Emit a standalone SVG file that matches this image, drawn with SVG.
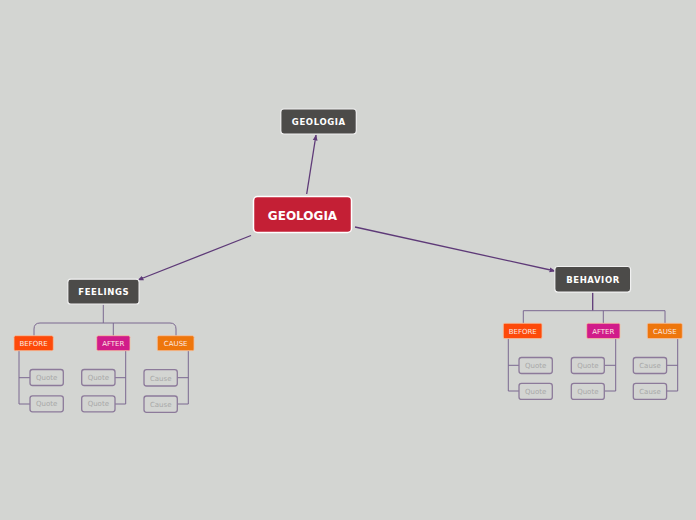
<svg xmlns="http://www.w3.org/2000/svg" width="696" height="520" viewBox="0 0 696 520">
<defs>
<style>
text{font-family:"DejaVu Sans","Verdana",sans-serif;text-anchor:middle}
.main{fill:#c41f35;stroke:#ffffff;stroke-width:1.5}
.dark{fill:#4c4b49;stroke:#f0f0f0;stroke-width:1.2}
.tw{fill:#ffffff;font-weight:bold}
.ls{letter-spacing:0.6px}
.sm{stroke:#f4c0a0;stroke-width:0.8}
.before{fill:#fd4a0a}
.after{fill:#d11c8a}
.cause{fill:#ee760c}
.lbl{fill:#fbe8e0;font-size:7px}
.leaf{fill:#d3d5d2;stroke:#8c7a9a;stroke-width:1.3}
.lt{fill:#a8a8a8;font-size:7px}
.conn{fill:none;stroke:#5e3a78;stroke-width:1.3}
.sub{fill:none;stroke:#7b6890;stroke-width:1}
</style>
<marker id="ah" viewBox="0 0 10 10" refX="9" refY="5" markerWidth="6" markerHeight="6" orient="auto" markerUnits="userSpaceOnUse">
<path d="M0,1 L10,5 L0,9 z" fill="#5e3a78"/>
</marker>
</defs>
<rect width="696" height="520" fill="#d3d5d2"/>
<g id="connectors">
<line class="conn" x1="306.7" y1="194" x2="316" y2="135" marker-end="url(#ah)"/>
<line class="conn" x1="251" y1="235.5" x2="138" y2="280" marker-end="url(#ah)"/>
<line class="conn" x1="355" y1="227" x2="555" y2="271" marker-end="url(#ah)"/>
<path class="sub" d="M103.3,304.5 V323 M34,336 V329 Q34,323 40,323 H170 Q176,323 176,329 V336 M113.3,323 V336"/>
<path class="sub" d="M19,351 V404 M19,377.7 H30 M19,404 H30"/>
<path class="sub" d="M125.7,351 V404 M115,377.7 H125.7 M115,404 H125.7"/>
<path class="sub" d="M188.3,351 V404 M177.3,377.7 H188.3 M177.3,404 H188.3"/>
<path class="conn" d="M592.7,292.5 V310.7"/>
<path class="sub" d="M523.3,323.3 V310.7 H665 V323.3 M603.3,310.7 V323.3"/>
<path class="sub" d="M508.3,338.7 V391 M508.3,365.3 H519 M508.3,391 H519"/>
<path class="sub" d="M615.7,338.7 V391 M604.3,365.3 H615.7 M604.3,391 H615.7"/>
<path class="sub" d="M677.7,338.7 V391 M666.7,365.3 H677.7 M666.7,391 H677.7"/>
</g>
<g id="central">
<rect class="main" x="253.5" y="196.5" width="98" height="36" rx="4"/>
<text class="tw" x="302.5" y="219.5" font-size="12">GEOLOGIA</text>
</g>
<g id="top">
<rect class="dark" x="280.8" y="109" width="75.5" height="25" rx="3"/>
<text class="tw ls" x="318.8" y="125" font-size="8.5">GEOLOGIA</text>
</g>
<g id="feelings">
<rect class="dark" x="67.8" y="279.2" width="71.3" height="25" rx="3"/>
<text class="tw ls" x="103.8" y="295.3" font-size="8.5">FEELINGS</text>
</g>
<g id="behavior">
<rect class="dark" x="554.8" y="266.5" width="75.8" height="25.6" rx="3"/>
<text class="tw ls" x="593" y="282.8" font-size="8.5">BEHAVIOR</text>
</g>
<g id="f-before"><rect class="before sm" x="14" y="335.7" width="39.3" height="15" rx="1.5"/><text class="lbl" x="33.6" y="345.8">BEFORE</text></g>
<g id="f-after"><rect class="after sm" x="96.7" y="335.7" width="33.3" height="15" rx="1.5"/><text class="lbl" x="113.3" y="345.8">AFTER</text></g>
<g id="f-cause"><rect class="cause sm" x="157.3" y="335.7" width="36.7" height="15" rx="1.5"/><text class="lbl" x="175.7" y="345.8">CAUSE</text></g>
<g id="f-q1"><rect class="leaf" x="30" y="369.5" width="33.3" height="16" rx="2.5"/><text class="lt" x="46.7" y="380">Quote</text></g>
<g id="f-q2"><rect class="leaf" x="30" y="395.8" width="33.3" height="16" rx="2.5"/><text class="lt" x="46.7" y="406.3">Quote</text></g>
<g id="f-q3"><rect class="leaf" x="81.7" y="369.5" width="33.3" height="16" rx="2.5"/><text class="lt" x="98.3" y="380">Quote</text></g>
<g id="f-q4"><rect class="leaf" x="81.7" y="395.8" width="33.3" height="16" rx="2.5"/><text class="lt" x="98.3" y="406.3">Quote</text></g>
<g id="f-c1"><rect class="leaf" x="144" y="369.7" width="33.3" height="16.3" rx="2.5"/><text class="lt" x="160.7" y="380.5">Cause</text></g>
<g id="f-c2"><rect class="leaf" x="144" y="396" width="33.3" height="16.3" rx="2.5"/><text class="lt" x="160.7" y="406.8">Cause</text></g>
<g id="b-before"><rect class="before sm" x="503.3" y="323.3" width="38.7" height="15.3" rx="1.5"/><text class="lbl" x="522.7" y="333.6">BEFORE</text></g>
<g id="b-after"><rect class="after sm" x="586.7" y="323.3" width="33.3" height="15.3" rx="1.5"/><text class="lbl" x="603.3" y="333.6">AFTER</text></g>
<g id="b-cause"><rect class="cause sm" x="647.3" y="323.3" width="35" height="15.3" rx="1.5"/><text class="lbl" x="664.8" y="333.6">CAUSE</text></g>
<g id="b-q1"><rect class="leaf" x="519" y="357.5" width="33.3" height="16" rx="2.5"/><text class="lt" x="535.7" y="368">Quote</text></g>
<g id="b-q2"><rect class="leaf" x="519" y="383.4" width="33.3" height="16" rx="2.5"/><text class="lt" x="535.7" y="393.9">Quote</text></g>
<g id="b-q3"><rect class="leaf" x="571.3" y="357.5" width="33" height="16" rx="2.5"/><text class="lt" x="587.8" y="368">Quote</text></g>
<g id="b-q4"><rect class="leaf" x="571.3" y="383.4" width="33" height="16" rx="2.5"/><text class="lt" x="587.8" y="393.9">Quote</text></g>
<g id="b-c1"><rect class="leaf" x="633.3" y="357.5" width="33.3" height="16" rx="2.5"/><text class="lt" x="650" y="368">Cause</text></g>
<g id="b-c2"><rect class="leaf" x="633.3" y="383.4" width="33.3" height="16" rx="2.5"/><text class="lt" x="650" y="393.9">Cause</text></g>
</svg>
